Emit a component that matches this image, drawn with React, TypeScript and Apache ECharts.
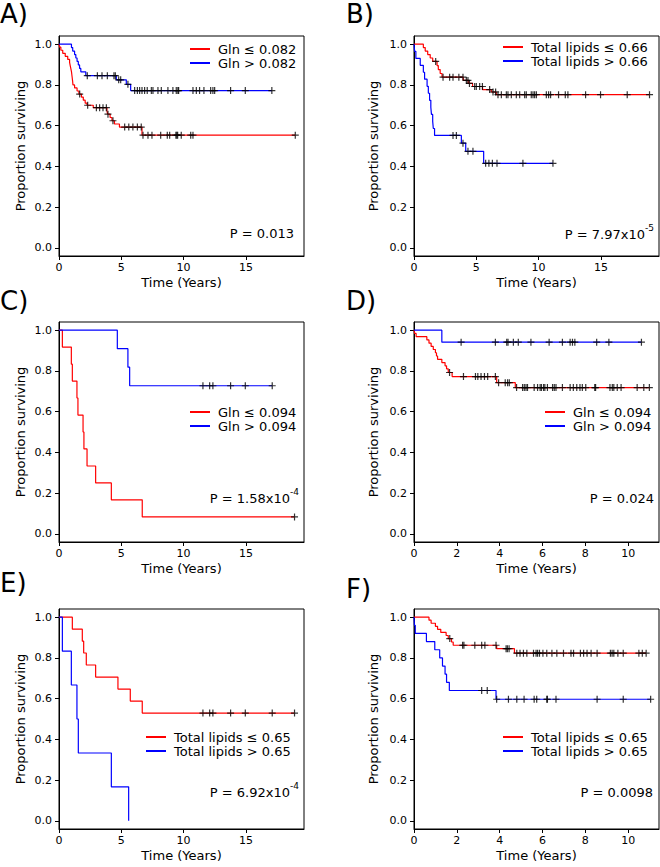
import React, { useEffect, useRef } from "react";
import * as echarts from "echarts";

// ---------- data ----------
const longTicks = [0, 5, 10, 15];
const shortTicks = [0, 2, 4, 6, 8, 10];
const yTicks = [0, 0.2, 0.4, 0.6, 0.8, 1.0];

// Panel A
const aRedName = "Gln ≤ 0.082";
const aBlueName = "Gln > 0.082";
const aRedSteps: [number, number][] = [[0,1],[0.05,0.985],[0.15,0.97],[0.3,0.955],[0.5,0.94],[0.7,0.925],[0.85,0.91],[0.9,0.895],[0.95,0.88],[1.0,0.865],[1.03,0.85],[1.06,0.835],[1.09,0.82],[1.12,0.8],[1.25,0.785],[1.45,0.77],[1.6,0.755],[1.8,0.74],[1.95,0.725],[2.1,0.71],[2.25,0.7],[2.75,0.688],[3.85,0.672],[3.9,0.656],[4.1,0.64],[4.25,0.624],[4.45,0.608],[4.85,0.593],[6.66,0.553]];
const aRedEnd = 18.96;
const aRedCens = [1.66,2.3,3.0,3.26,3.53,3.8,3.93,4.33,5.27,5.6,5.93,6.29,6.6,6.74,7.14,7.46,8.16,8.69,8.88,9.38,9.45,9.52,9.81,10.57,10.75,18.96];
const aBlueSteps: [number, number][] = [[0,1],[1.0,0.983],[1.1,0.966],[1.25,0.949],[1.35,0.932],[1.45,0.915],[1.55,0.898],[1.65,0.881],[1.75,0.864],[2.15,0.845],[4.6,0.825],[5.4,0.803],[5.75,0.772]];
const aBlueEnd = 17.08;
const aBlueCens = [2.27,3.08,3.45,3.88,4.41,4.52,4.79,4.95,5.53,6.07,6.29,6.47,6.66,6.87,7.08,7.41,7.54,7.94,8.21,8.74,9.14,9.41,9.54,9.6,10.75,11.02,11.28,11.63,12.17,12.35,12.49,13.77,14.95,17.08];

// Panel B
const bRedName = "Total lipids ≤ 0.66";
const bBlueName = "Total lipids > 0.66";
const bRedSteps: [number, number][] = [[0,1],[0.75,0.983],[0.9,0.966],[1.1,0.949],[1.3,0.932],[1.5,0.915],[1.85,0.895],[1.95,0.875],[2.1,0.856],[2.25,0.838],[3.95,0.822],[4.35,0.807],[4.7,0.792],[5.5,0.777],[6.2,0.765],[6.6,0.752]];
const bRedEnd = 18.9;
const bRedCens = [1.74,2.33,2.86,3.13,3.6,3.93,4.2,4.33,4.45,4.87,5.0,5.27,5.49,6.07,6.34,6.55,6.74,7.01,7.41,7.54,7.81,8.21,8.48,8.88,9.01,9.41,9.55,9.68,9.82,10.62,10.8,10.96,11.6,12.14,12.35,13.77,14.97,17.11,18.9];
const bBlueSteps: [number, number][] = [[0,1],[0.05,0.965],[0.15,0.93],[0.5,0.896],[0.75,0.862],[0.85,0.828],[1.05,0.793],[1.15,0.759],[1.25,0.724],[1.35,0.69],[1.4,0.655],[1.5,0.621],[1.55,0.586],[1.65,0.552],[3.8,0.514],[4.15,0.474],[5.59,0.415]];
const bBlueEnd = 11.15;
const bBlueCens = [3.13,3.4,3.93,4.33,4.73,5.75,6.01,6.29,6.66,8.74,11.15];

// Panel C
const cRedName = "Gln ≤ 0.094";
const cBlueName = "Gln > 0.094";
const cRedSteps: [number, number][] = [[0,1],[0.27,0.917],[0.99,0.833],[1.07,0.75],[1.44,0.667],[1.52,0.583],[1.93,0.5],[2.0,0.417],[2.25,0.333],[2.94,0.25],[4.2,0.167],[6.68,0.083]];
const cRedEnd = 18.9;
const cRedCens = [18.9];
const cBlueSteps: [number, number][] = [[0,1],[4.68,0.909],[5.53,0.818],[5.67,0.727]];
const cBlueEnd = 17.11;
const cBlueCens = [11.55,12.09,12.35,13.77,14.95,17.11];

// Panel D
const dRedName = "Gln ≤ 0.094";
const dBlueName = "Gln > 0.094";
const dRedSteps: [number, number][] = [[0,1],[0.03,0.984],[0.1,0.968],[0.6,0.952],[0.7,0.936],[0.8,0.92],[0.9,0.905],[1.0,0.889],[1.05,0.873],[1.1,0.857],[1.3,0.841],[1.45,0.825],[1.52,0.81],[1.6,0.792],[1.78,0.772],[3.86,0.742],[4.73,0.718]];
const dRedEnd = 10.99;
const dRedCens = [1.66,2.31,2.87,2.98,3.13,3.29,3.44,3.8,3.95,4.26,4.37,4.45,4.79,5.07,5.15,5.23,5.3,5.61,5.77,5.89,5.95,6.05,6.11,6.23,6.47,6.55,6.63,6.93,7.29,7.44,7.6,7.75,7.86,8.02,8.44,8.48,9.15,9.26,9.33,9.49,9.67,10.42,10.73,10.99];
const dBlueSteps: [number, number][] = [[0,1],[1.3,0.941]];
const dBlueEnd = 10.62;
const dBlueCens = [2.2,3.8,4.33,4.39,4.64,4.87,5.46,6.31,6.93,7.29,7.4,7.51,8.53,9.1,10.62];

// Panel E
const eRedName = "Total lipids ≤ 0.65";
const eBlueName = "Total lipids > 0.65";
const eRedSteps: [number, number][] = [[0,1],[1.07,0.941],[1.87,0.882],[1.98,0.824],[2.19,0.765],[2.94,0.706],[4.73,0.647],[5.72,0.588],[6.68,0.529]];
const eRedEnd = 18.9;
const eRedCens = [11.55,12.09,12.35,13.77,14.95,17.11,18.9];
const eBlueSteps: [number, number][] = [[0,1],[0.27,0.833],[0.99,0.667],[1.44,0.5],[1.55,0.333],[4.2,0.167],[5.59,0]];
const eBlueEnd = 5.59;
const eBlueCens: number[] = [];

// Panel F
const fRedName = "Total lipids ≤ 0.65";
const fBlueName = "Total lipids > 0.65";
const fRedSteps: [number, number][] = [[0,1],[0.7,0.985],[0.8,0.97],[1.0,0.955],[1.1,0.94],[1.25,0.925],[1.5,0.91],[1.6,0.895],[1.75,0.878],[1.83,0.862],[3.86,0.845],[4.69,0.823]];
const fRedEnd = 10.84;
const fRedCens = [1.67,2.27,2.33,2.84,3.16,3.31,3.83,4.3,4.36,4.44,4.8,4.95,5.11,5.27,5.58,5.7,5.77,5.86,6.02,6.2,6.44,6.67,6.98,7.33,7.45,7.77,7.92,8.08,8.27,8.55,9.17,9.25,9.33,9.52,9.77,10.5,10.66,10.84];
const fBlueSteps: [number, number][] = [[0,1],[0.02,0.96],[0.06,0.92],[0.58,0.88],[0.97,0.84],[1.2,0.8],[1.33,0.76],[1.45,0.72],[1.52,0.68],[1.65,0.64],[3.83,0.597]];
const fBlueEnd = 11.05;
const fBlueCens = [3.16,3.42,3.86,4.41,4.8,5.14,5.61,5.73,6.2,6.23,6.63,8.55,9.77,11.05];

// ---------- styling / layout ----------
const FONT = "'DejaVu Sans', Verdana, sans-serif";
const RED = "#ff0000";
const BLUE = "#0000ff";
const PLUS = "path://M5,0L5,10M0,5L10,5";
const colLeft = [59, 414];
const rowTop = [36, 322, 609];
const plotW = 245;
const plotH = 220;

type Curve = { name: string; color: string; steps: [number, number][]; end: number; cens: number[] };
type Panel = {
  label: string; col: number; row: number; xMax: number; xTicks: number[];
  curves: Curve[]; pMain: string; pExp?: string;
  legendPos: [number, number]; pPos: [number, number]; labelPos: [number, number];
};

const panels: Panel[] = [
  { label: "A)", col: 0, row: 0, xMax: 19.66, xTicks: longTicks,
    curves: [
      { name: aRedName, color: RED, steps: aRedSteps, end: aRedEnd, cens: aRedCens },
      { name: aBlueName, color: BLUE, steps: aBlueSteps, end: aBlueEnd, cens: aBlueCens },
    ], pMain: "P = 0.013", legendPos: [190, 42], pPos: [294, 231], labelPos: [0, 14] },
  { label: "B)", col: 1, row: 0, xMax: 19.66, xTicks: longTicks,
    curves: [
      { name: bRedName, color: RED, steps: bRedSteps, end: bRedEnd, cens: bRedCens },
      { name: bBlueName, color: BLUE, steps: bBlueSteps, end: bBlueEnd, cens: bBlueCens },
    ], pMain: "P = 7.97x10", pExp: "-5", legendPos: [503, 40], pPos: [654, 232], labelPos: [346, 14] },
  { label: "C)", col: 0, row: 1, xMax: 19.66, xTicks: longTicks,
    curves: [
      { name: cRedName, color: RED, steps: cRedSteps, end: cRedEnd, cens: cRedCens },
      { name: cBlueName, color: BLUE, steps: cBlueSteps, end: cBlueEnd, cens: cBlueCens },
    ], pMain: "P = 1.58x10", pExp: "-4", legendPos: [190, 405], pPos: [299, 496], labelPos: [0, 301] },
  { label: "D)", col: 1, row: 1, xMax: 11.44, xTicks: shortTicks,
    curves: [
      { name: dRedName, color: RED, steps: dRedSteps, end: dRedEnd, cens: dRedCens },
      { name: dBlueName, color: BLUE, steps: dBlueSteps, end: dBlueEnd, cens: dBlueCens },
    ], pMain: "P = 0.024", legendPos: [545, 405], pPos: [654, 496], labelPos: [346, 301] },
  { label: "E)", col: 0, row: 2, xMax: 19.66, xTicks: longTicks,
    curves: [
      { name: eRedName, color: RED, steps: eRedSteps, end: eRedEnd, cens: eRedCens },
      { name: eBlueName, color: BLUE, steps: eBlueSteps, end: eBlueEnd, cens: eBlueCens },
    ], pMain: "P = 6.92x10", pExp: "-4", legendPos: [146, 730], pPos: [299, 790], labelPos: [0, 583] },
  { label: "F)", col: 1, row: 2, xMax: 11.44, xTicks: shortTicks,
    curves: [
      { name: fRedName, color: RED, steps: fRedSteps, end: fRedEnd, cens: fRedCens },
      { name: fBlueName, color: BLUE, steps: fBlueSteps, end: fBlueEnd, cens: fBlueCens },
    ], pMain: "P = 0.0098", legendPos: [503, 730], pPos: [653, 790], labelPos: [346, 589] },
];

function survAt(steps: [number, number][], t: number): number {
  let s = steps[0][1];
  for (const [ti, si] of steps) if (ti <= t) s = si;
  return s;
}

function buildOption() {
  const grid: any[] = [];
  const xAxis: any[] = [];
  const yAxis: any[] = [];
  const series: any[] = [];
  const legend: any[] = [];
  const graphic: any[] = [];

  panels.forEach((p, i) => {
    grid.push({
      left: colLeft[p.col], top: rowTop[p.row], width: plotW, height: plotH,
      show: true, borderColor: "#000", borderWidth: 1, backgroundColor: "transparent",
      containLabel: false, outerBoundsMode: "none",
    });
    xAxis.push({
      gridIndex: i, type: "value", min: 0, max: p.xMax,
      axisLine: { show: true, onZero: false, lineStyle: { color: "#000", width: 1 } },
      axisTick: { show: true, inside: false, length: 4, customValues: p.xTicks, lineStyle: { color: "#000" } },
      axisLabel: { customValues: p.xTicks, formatter: (v: number) => String(v), fontSize: 11, fontFamily: FONT, color: "#000", margin: 6 },
      splitLine: { show: false },
      name: "Time (Years)", nameLocation: "middle", nameGap: 20,
      nameTextStyle: { fontSize: 13, fontFamily: FONT, color: "#000" },
    });
    yAxis.push({
      gridIndex: i, type: "value", min: -0.04, max: 1.04,
      axisLine: { show: true, onZero: false, lineStyle: { color: "#000", width: 1 } },
      axisTick: { show: true, inside: false, length: 4, customValues: yTicks, lineStyle: { color: "#000" } },
      axisLabel: { customValues: yTicks, formatter: (v: number) => v.toFixed(1), fontSize: 11, fontFamily: FONT, color: "#000", margin: 7 },
      splitLine: { show: false },
      name: "Proportion surviving", nameLocation: "middle", nameGap: p.col === 0 ? 32 : 34,
      nameTextStyle: { fontSize: 13, fontFamily: FONT, color: "#000" },
    });
    p.curves.forEach((c) => {
      const last = c.steps[c.steps.length - 1][1];
      series.push({
        type: "line", name: c.name, xAxisIndex: i, yAxisIndex: i, step: "end",
        data: [...c.steps, [c.end, last]], symbol: "none", showSymbol: false,
        lineStyle: { color: c.color, width: 1.2 }, itemStyle: { color: c.color }, z: 2,
      });
    });
    p.curves.forEach((c) => {
      if (!c.cens.length) return;
      series.push({
        type: "scatter", name: c.name + " (censored)", xAxisIndex: i, yAxisIndex: i,
        data: c.cens.map((t) => [t, survAt(c.steps, t)]),
        symbol: PLUS, symbolSize: 7,
        itemStyle: { color: "rgba(0,0,0,0)", borderColor: "#000", borderWidth: 1.2 }, z: 3,
      });
    });
    legend.push({
      left: p.legendPos[0], top: p.legendPos[1], orient: "vertical", padding: 0,
      itemWidth: 20, itemHeight: 2, itemGap: 0, selectedMode: false,
      data: p.curves.map((c) => ({ name: c.name, icon: "rect", itemStyle: { color: c.color } })),
      textStyle: { fontSize: 13, fontFamily: FONT, color: "#000", lineHeight: 14, padding: [0, 0, 0, 3] },
    });
    graphic.push({
      type: "text", x: p.pPos[0], y: p.pPos[1],
      style: {
        text: p.pExp ? `{n|${p.pMain}}{s|${p.pExp}}` : `{n|${p.pMain}}`,
        align: "right", verticalAlign: "middle",
        rich: {
          n: { fontSize: 13, fontFamily: FONT, fill: "#000", lineHeight: 18, verticalAlign: "bottom" },
          s: { fontSize: 9, fontFamily: FONT, fill: "#000", verticalAlign: "top", lineHeight: 10 },
        },
      },
    });
    graphic.push({
      type: "text", x: p.labelPos[0], y: p.labelPos[1],
      style: { text: p.label, fontSize: 26, fontFamily: FONT, fill: "#000", align: "left", verticalAlign: "middle" },
    });
  });

  return {
    animation: false,
    backgroundColor: "#fff",
    grid, xAxis, yAxis, series, legend, graphic,
  };
}

export default function App() {
  const ref = useRef<HTMLDivElement>(null);
  useEffect(() => {
    if (!ref.current) return;
    const chart = echarts.init(ref.current, null, { renderer: "svg" });
    chart.setOption(buildOption() as any);
    return () => chart.dispose();
  }, []);
  return (
    <div
      ref={ref}
      style={{ position: "absolute", left: 0, top: 0, width: 660, height: 867 }}
    />
  );
}
